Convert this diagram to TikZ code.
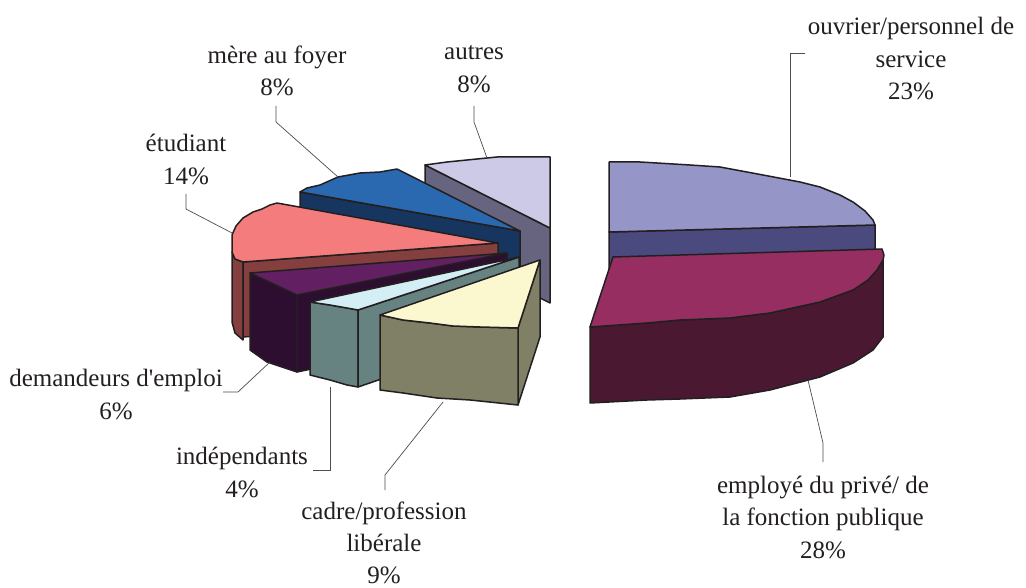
\documentclass[tikz,border=0pt]{standalone}
\usepackage{fontspec}
\setmainfont{Liberation Serif}
\definecolor{autT}{HTML}{CCCAE6}
\definecolor{autS}{HTML}{66647F}
\definecolor{merT}{HTML}{2A68B0}
\definecolor{merS}{HTML}{17365F}
\definecolor{etuT}{HTML}{F47C7C}
\definecolor{etuS}{HTML}{853F3F}
\definecolor{demT}{HTML}{621F62}
\definecolor{demS}{HTML}{2E0E30}
\definecolor{indT}{HTML}{D3EEF4}
\definecolor{indS}{HTML}{668382}
\definecolor{cadT}{HTML}{FBF8D0}
\definecolor{cadS}{HTML}{808066}
\definecolor{ouvT}{HTML}{9595C8}
\definecolor{ouvS}{HTML}{4B4A7E}
\definecolor{empT}{HTML}{962E62}
\definecolor{empS}{HTML}{4A1931}
\definecolor{ink}{HTML}{231F20}
\begin{document}
\begin{tikzpicture}[x=1pt,y=-1pt,
  edge/.style={draw=ink, line width=1.5pt, line join=round},
  leader/.style={draw=ink!80, line width=0.7pt},
  lbl/.style={font=\fontsize{25}{32.5}\selectfont, align=center, inner sep=0pt, anchor=north, text=ink, execute at begin node=\strut}]
\useasboundingbox[fill=white] (0,0) rectangle (1026,588);

% autres
\filldraw[edge, fill=autS] (425,165) -- (550,228) -- (550,303) -- (425,240) -- cycle;
\filldraw[edge, fill=autT] (425,165) -- (447,162) -- (467,160) -- (487,158) -- (497,157) -- (550,157) -- (550,228) -- cycle;

% mere au foyer
\filldraw[edge, fill=merS] (300,192) -- (520,231) -- (520,306) -- (300,267) -- cycle;
\filldraw[edge, fill=merT] (300,192) -- (307,188) -- (320,185) -- (338,177) -- (360,173) -- (380,172) -- (397,169) -- (520,231) -- cycle;

% etudiant
\filldraw[edge, fill=etuS] (243,262) -- (235,259) -- (232,252) -- (232,322) -- (235,333) -- (243,340) -- cycle;
\filldraw[edge, fill=etuS] (243,262) -- (498,243) -- (498,318) -- (243,337) -- cycle;
\filldraw[edge, fill=etuT] (243,262) -- (235,259) -- (232,252) -- (232,235) -- (236,226) -- (243,218) -- (253,212) -- (262,209) -- (270,205) -- (277,203) -- (498,243) -- cycle;

% demandeurs d'emploi
\filldraw[edge, fill=demS] (250,273) -- (297,295) -- (297,372) -- (267,362) -- (250,350) -- cycle;
\filldraw[edge, fill=demS] (297,295) -- (507,253) -- (507,328) -- (297,372) -- cycle;
\filldraw[edge, fill=demT] (250,273) -- (297,295) -- (507,253) -- cycle;

% independants
\filldraw[edge, fill=indS] (310,302) -- (330,305) -- (347,308) -- (358,310) -- (358,387) -- (347,385) -- (330,380) -- (310,375) -- cycle;
\filldraw[edge, fill=indS] (358,310) -- (519,257) -- (519,332) -- (358,387) -- cycle;
\filldraw[edge, fill=indT] (310,302) -- (330,305) -- (347,308) -- (358,310) -- (519,257) -- cycle;

% cadre / profession liberale
\filldraw[edge, fill=cadS] (518,328) -- (540,260) -- (540,337) -- (518,405) -- cycle;
\filldraw[edge, fill=cadS] (380,315) -- (403,320) -- (430,323) -- (453,326) -- (480,327) -- (518,328) -- (518,405) -- (470,400) -- (437,398) -- (403,393) -- (380,390) -- cycle;
\filldraw[edge, fill=cadT] (380,315) -- (403,320) -- (430,323) -- (453,326) -- (480,327) -- (518,328) -- (540,260) -- cycle;

% ouvrier / personnel de service
\filldraw[edge, fill=ouvS] (609,232) -- (875,225) -- (875,300) -- (609,307) -- cycle;
\filldraw[edge, fill=ouvT] (609,162) -- (640,162) -- (657,163) -- (690,165) -- (720,167) -- (763,175) -- (800,182) -- (820,187) -- (840,195) -- (853,202) -- (865,211) -- (873,220) -- (875,225) -- (609,232) -- cycle;

% employe
\filldraw[edge, fill=empS] (590,327) -- (647,323) -- (680,320) -- (730,318) -- (770,313) -- (820,302) -- (853,290) -- (868,280) -- (877,270) -- (883,260) -- (883,337) -- (873,350) -- (853,363) -- (820,377) -- (770,390) -- (730,397) -- (680,399) -- (647,400) -- (590,403) -- cycle;
\filldraw[edge, fill=empT] (613,257) -- (882,249) -- (884,255) -- (883,260) -- (877,270) -- (868,280) -- (853,290) -- (820,302) -- (770,313) -- (730,318) -- (680,320) -- (647,323) -- (590,327) -- cycle;

% labels
\node[lbl] (Louv) at (911,17.1) {ouvrier/personnel de\\service\\23\%};
\node[lbl] (Lemp) at (823,475.5) {employé du privé/ de\\la fonction publique\\28\%};
\node[lbl] (Lmer) at (277,45.5) {mère au foyer\\8\%};
\node[lbl] (Laut) at (474,45.5) {autres\\8\%};
\node[lbl] (Letu) at (186,134.1) {étudiant\\14\%};
\node[lbl] (Ldem) at (116,369.1) {demandeurs d\textquotesingle emploi\\6\%};
\node[lbl] (Lind) at (242,447.1) {indépendants\\4\%};
\node[lbl, font=\fontsize{25}{32}\selectfont] (Lcad) at (384,502) {cadre/profession\\libérale\\9\%};

% leader coordinates
\coordinate (ouvA) at (805,53);  \coordinate (ouvB) at (790,53);  \coordinate (ouvP) at (790,177);
\coordinate (empA) at (823,462); \coordinate (empB) at (823,443); \coordinate (empP) at (808,380);
\coordinate (merA) at (276,106); \coordinate (merB) at (276,122); \coordinate (merP) at (338,177);
\coordinate (autA) at (474,106); \coordinate (autB) at (474,122); \coordinate (autP) at (487,158);
\coordinate (etuA) at (186,194); \coordinate (etuB) at (186,209); \coordinate (etuP) at (232,233);
\coordinate (demA) at (223,392); \coordinate (demB) at (238,392); \coordinate (demP) at (270,362);
\coordinate (indA) at (313,470); \coordinate (indB) at (330,470); \coordinate (indP) at (330,387);
\coordinate (cadA) at (385,490); \coordinate (cadB) at (385,475); \coordinate (cadP) at (443,402);

\draw[leader] (ouvA) -- (ouvB) -- (ouvP);
\draw[leader] (empA) -- (empB) -- (empP);
\draw[leader] (merA) -- (merB) -- (merP);
\draw[leader] (autA) -- (autB) -- (autP);
\draw[leader] (etuA) -- (etuB) -- (etuP);
\draw[leader] (demA) -- (demB) -- (demP);
\draw[leader] (indA) -- (indB) -- (indP);
\draw[leader] (cadA) -- (cadB) -- (cadP);
\end{tikzpicture}
\end{document}
